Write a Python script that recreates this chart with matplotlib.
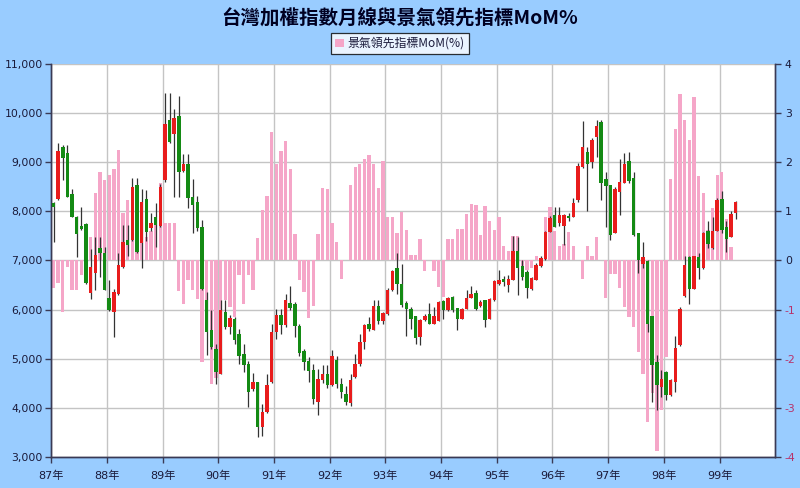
import numpy as np
import matplotlib
matplotlib.use("Agg")
import matplotlib.pyplot as plt
from matplotlib.patches import Patch
from matplotlib.ticker import FuncFormatter

plt.rcParams['font.family'] = ['DejaVu Sans', 'Noto Sans CJK TC']
plt.rcParams['axes.unicode_minus'] = False

# ---- data: monthly TAIEX candles, 87年(1998)/01 .. 99年(2010)/04 ----
year_labels = ['87年', '88年', '89年', '90年', '91年', '92年', '93年',
               '94年', '95年', '96年', '97年', '98年', '99年']

opens = [8176, 8244, 9319, 9196, 8346, 7891, 7700, 7734, 6340, 6748, 7245, 7143,
         6245, 5958, 6327, 6871, 7415, 7415, 8537, 7347, 8244, 7653, 7891, 7700,
         8639, 9863, 9577, 9931, 8829, 8965, 8299, 8197, 7687, 6191, 5579, 5205,
         4695, 5953, 5647, 5817, 5497, 5103, 4899, 4389, 4525, 3607, 3913, 4525,
         5545, 5885, 5681, 6136, 6123, 5660, 5157, 4953, 4777, 4117, 4573, 4695,
         4457, 4981, 4490, 4287, 4096, 4627, 4885, 5341, 5715, 5592, 6068, 5769,
         5919, 6395, 6837, 6517, 6136, 6021, 5864, 5443, 5783, 5905, 5715, 5769,
         6177, 5987, 6259, 6034, 5817, 6021, 6245, 6340, 6068, 6191, 5817, 6191,
         6517, 6633, 6497, 6612, 7197, 6884, 6769, 6429, 6612, 6884, 7021, 7585,
         7925, 7755, 7700, 7900, 7891, 8231, 8897, 9217, 9013, 9523, 9809, 8652,
         8537, 7564, 8401, 8584, 9033, 8673, 7551, 6925, 6993, 5864, 4933, 4423,
         4729, 4253, 4525, 5273, 6272, 7061, 6429, 7061, 6837, 7605, 7245, 7605,
         8244, 7687, 7483, 7959]

highs = [8200, 9387, 9353, 9353, 8448, 7900, 8095, 7760, 7224, 7469, 7469, 7279,
         6600, 6413, 7143, 7721, 7721, 8673, 8673, 8448, 8435, 7959, 8163, 8550,
         10407, 10407, 10080, 10339, 9169, 9169, 8652, 8312, 7823, 6361, 5987, 5300,
         6191, 6204, 5900, 5850, 5613, 5307, 4950, 4700, 4525, 4083, 4695, 5700,
         6021, 6021, 6327, 6476, 6150, 5700, 5200, 5035, 4900, 4797, 4865, 4865,
         5170, 5050, 4600, 4450, 4695, 5103, 5511, 5700, 5851, 6191, 6191, 5950,
         6430, 6800, 7143, 6925, 6180, 6060, 5880, 5800, 5920, 6136, 6050, 6170,
         6200, 6250, 6280, 6040, 6030, 6395, 6475, 6400, 6190, 6200, 6240, 6600,
         6803, 6680, 6700, 7496, 7483, 7000, 6800, 6660, 6950, 7100, 7600, 7900,
         8095, 8095, 7950, 7960, 8265, 8979, 9829, 9300, 9500, 9863, 9863, 8809,
         8540, 8500, 9060, 9183, 9200, 8809, 7560, 7381, 7000, 5870, 5069, 4763,
         4760, 4580, 5457, 6050, 7088, 7100, 7100, 7143, 7580, 7809, 7891, 8265,
         8421, 7800, 8000, 8220]

lows = [7381, 8230, 8639, 8290, 7880, 7075, 7620, 6530, 6225, 6395, 6667, 6400,
        5980, 5443, 6300, 6850, 7100, 7400, 7150, 6837, 7400, 7600, 7279, 7690,
        8600, 9400, 8299, 8299, 8800, 8061, 7551, 7600, 6400, 5069, 5200, 4491,
        4680, 5600, 5500, 5300, 4899, 4729, 4014, 4350, 3403, 3437, 3900, 4500,
        5409, 5500, 5650, 6000, 5443, 5050, 4763, 4525, 4083, 3845, 4500, 4400,
        4440, 4400, 4200, 4050, 4044, 4600, 4860, 5200, 5560, 5580, 5700, 5700,
        5900, 6380, 6327, 6050, 5457, 5600, 5307, 5270, 5760, 5700, 5700, 5760,
        5800, 5980, 5950, 5579, 5800, 6010, 6230, 6000, 6060, 5647, 5800, 6180,
        6500, 6480, 6360, 6600, 6300, 6600, 6245, 6400, 6600, 6870, 7000, 7570,
        7680, 7700, 7313, 7810, 7880, 8200, 8880, 8013, 8880, 9100, 8231, 7687,
        7415, 7550, 7925, 8570, 8570, 7500, 6735, 6850, 5545, 4117, 3960, 4219,
        4164, 4250, 4321, 5250, 6260, 6123, 6420, 6633, 6830, 7250, 7240, 7590,
        7550, 7177, 7470, 7850]

closes = [8081, 9237, 9094, 8299, 7891, 7537, 7632, 6544, 6857, 7109, 7156, 6408,
          5994, 6365, 6905, 7381, 7313, 8503, 7177, 8197, 7585, 7755, 7721, 8503,
          9781, 9421, 9897, 8809, 8965, 8265, 8129, 7653, 6429, 5545, 5239, 4729,
          5987, 5647, 5837, 5375, 5048, 4865, 4320, 4525, 3607, 3913, 4457, 5545,
          5885, 5681, 6191, 6041, 5660, 5116, 4933, 4749, 4185, 4593, 4681, 4457,
          5048, 4491, 4321, 4117, 4573, 4885, 5341, 5681, 5613, 6068, 5769, 5932,
          6408, 6789, 6517, 6089, 6021, 5817, 5429, 5783, 5864, 5715, 5864, 6157,
          5987, 6232, 5987, 5817, 6021, 6245, 6327, 6021, 6157, 5783, 6225, 6585,
          6603, 6565, 6633, 7197, 6837, 6660, 6442, 6653, 6905, 7041, 7585, 7857,
          7687, 7925, 7925, 7870, 8163, 8925, 9305, 8965, 9455, 9741, 8584, 8516,
          7517, 8448, 8605, 8965, 8625, 7517, 7007, 7061, 5715, 4865, 4457, 4593,
          4253, 4573, 5225, 6021, 6905, 6429, 7088, 6837, 7551, 7333, 7605, 8231,
          7619, 7428, 7945, 8197]

# leading indicator MoM %, 87年/01 .. 99年/03
mom = [-0.57, -0.46, -1.05, -0.14, -0.60, -0.60, -0.30, -0.30, 0.48, 1.37, 1.80, 1.64,
       1.74, 1.86, 2.25, 0.97, 1.23, 1.50, 0.50, 0.48, 0.48, 0.60, 0.80, 1.57,
       0.76, 0.76, 0.76, -0.62, -0.88, -0.39, -0.60, -0.78, -2.07, -1.08, -2.52, -2.40,
       -2.05, -0.81, -0.95, -1.15, -0.30, -0.88, -0.30, -0.60, 0.46, 1.03, 1.31, 2.61,
       1.97, 2.22, 2.44, 1.86, 0.54, -0.40, -0.65, -1.18, -0.93, 0.53, 1.47, 1.45,
       0.77, 0.38, -0.38, 0.00, 1.54, 1.90, 1.97, 2.07, 2.14, 1.97, 1.48, 2.03,
       0.89, 0.89, 0.55, 0.99, 0.63, 0.12, 0.12, 0.44, -0.21, 0.00, -0.21, -0.55,
       -0.75, 0.44, 0.44, 0.64, 0.64, 0.95, 1.15, 1.13, 0.51, 1.11, 0.81, 0.61,
       0.89, 0.30, 0.19, 0.50, 0.50, -0.20, -0.20, -0.15, 0.09, 0.05, 0.89, 1.08,
       0.59, 0.30, 0.33, 0.57, 0.29, 0.00, -0.38, 0.29, 0.10, 0.47, 0.00, -0.76,
       -0.27, -0.27, -0.56, -0.95, -1.15, -1.35, -1.86, -2.31, -3.29, -2.70, -3.87, -3.04,
       -1.97, 1.66, 2.68, 3.39, 2.85, 2.46, 3.32, 1.71, 1.38, 0.62, 1.06, 1.73,
       1.80, 0.84, 0.28]

title = '台灣加權指數月線與景氣領先指標MoM%'
legend_label = '景氣領先指標MoM(%)'

# ---- colours ----
BG = '#99CCFF'
RED = '#E81C1C'
GREEN = '#148A14'
PINK = '#F5A6C8'
WICK = '#333333'
INK = '#1A1A3A'
NEG = '#B8326A'
GRID = '#C4C4C4'

fig = plt.figure(figsize=(8, 4.88), dpi=100, facecolor=BG)
ax = fig.add_axes([0.064, 0.0635, 0.905, 0.8055])   # MoM bars (right scale)
ax2 = ax.twinx()                                     # candles (left scale)

# MoM bars behind
x_b = np.arange(len(mom))
ax.bar(x_b, mom, width=0.72, color=PINK, linewidth=0, zorder=2)
ax.set_ylim(-4, 4)
ax.set_xlim(-0.5, 155.5)
ax.set_facecolor('white')
ax.grid(True, color=GRID, lw=1.0)
ax.set_axisbelow(True)

# candles on top
o = np.array(opens, dtype=float)
c = np.array(closes, dtype=float)
x_c = np.arange(len(o))
up = c >= o
body = np.maximum(np.abs(c - o), 30)
ax2.vlines(x_c, lows, highs, color=WICK, lw=0.9, zorder=2)
ax2.bar(x_c, body, bottom=np.minimum(o, c), width=0.74,
        color=np.where(up, RED, GREEN), linewidth=0, zorder=3)
ax2.set_ylim(3000, 11000)
ax2.set_yticks(np.arange(3000, 11001, 1000))
ax2.yaxis.set_major_formatter(FuncFormatter(lambda v, p: f'{int(v):,}'))

# axes placement: price on the left, MoM on the right
ax2.yaxis.tick_left()
ax2.yaxis.set_label_position('left')
ax.yaxis.tick_right()
ax.set_yticks(range(-4, 5))

ax.set_xticks(np.arange(len(year_labels)) * 12 - 0.5)
ax.set_xticklabels(year_labels)

for a in (ax, ax2):
    a.spines['top'].set_visible(False)
    for s in ('left', 'right', 'bottom'):
        a.spines[s].set_color('#3A3A55')
        a.spines[s].set_linewidth(1.0)
    a.tick_params(direction='out', length=4, width=1, color='#3A3A55',
                  labelsize=7.8, labelcolor=INK)

ax.tick_params(axis='x', pad=6, labelsize=8)
ax.tick_params(axis='y', pad=3)
ax2.tick_params(axis='y', pad=2)

for lab, v in zip(ax.get_yticklabels(), range(-4, 5)):
    if v < 0:
        lab.set_color(NEG)

fig.text(0.5, 0.963, title, ha='center', va='center', fontsize=14,
         fontweight='bold', color='#000022',
         family=['Noto Sans CJK TC', 'DejaVu Sans'])

leg = fig.legend(handles=[Patch(facecolor=PINK, edgecolor='none', label=legend_label)],
                 loc='center', bbox_to_anchor=(0.5, 0.911), frameon=True,
                 fancybox=False, fontsize=8.6, handlelength=0.7, handleheight=0.7,
                 handletextpad=0.3, borderpad=0.35, borderaxespad=0)
leg.get_frame().set_edgecolor('black')
leg.get_frame().set_linewidth(0.9)
for t in leg.get_texts():
    t.set_color(INK)
    t.set_family(['Noto Sans CJK TC', 'DejaVu Sans'])

fig.savefig('out.png', dpi=100, facecolor=BG)
